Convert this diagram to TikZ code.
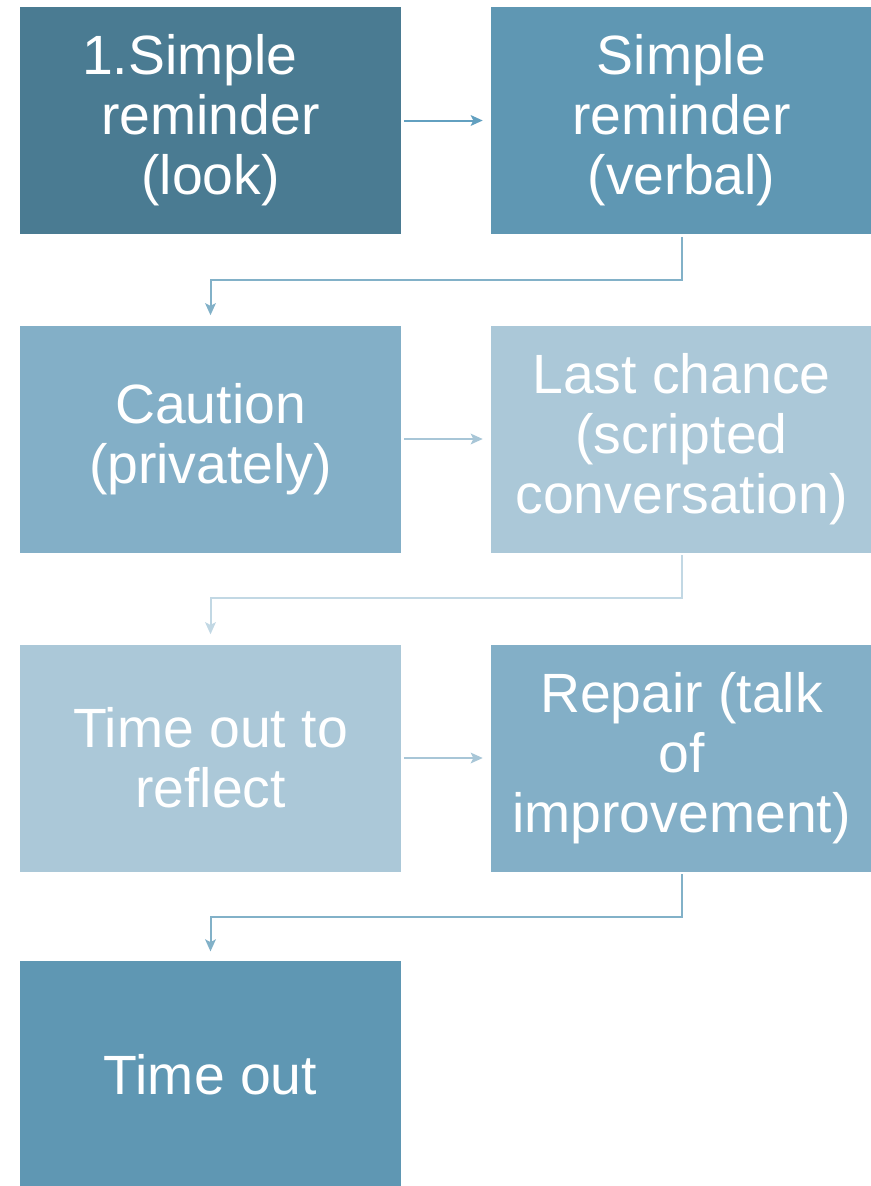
\documentclass[tikz,border=0pt]{standalone}
\usepackage{fontspec}
\setmainfont{Liberation Sans}
\usetikzlibrary{arrows.meta}

\definecolor{stepA}{HTML}{4A7B92}
\definecolor{stepB}{HTML}{5F97B3}
\definecolor{stepC}{HTML}{83AFC7}
\definecolor{stepD}{HTML}{ABC8D8}
\definecolor{linkA}{HTML}{62A0C0}
\definecolor{linkB}{HTML}{82B1C8}
\definecolor{linkC}{HTML}{A8C6D7}
\definecolor{linkD}{HTML}{C2D8E4}

\tikzset{
  stepbox/.style={fill=#1, draw=none, text=white, align=center,
    minimum width=285.75pt, minimum height=170.25pt, inner sep=0pt,
    font=\fontsize{41.5}{45}\selectfont},
  link/.style={draw=#1, line width=1.5pt, -{Stealth[length=9pt, width=8pt, inset=2pt]}}
}

\begin{document}
\begin{tikzpicture}[x=0.75pt, y=-0.75pt]
    \useasboundingbox (0,0) rectangle (871,1186);
    % Steps of the escalation
    \node[stepbox=stepA] (look)    at (210.5,120.5) {1.Simple\hspace*{31pt}\\reminder\\(look)};
    \node[stepbox=stepB] (verbal)  at (681.5,120.5) {Simple\\reminder\\(verbal)};
    \node[stepbox=stepC] (caution) at (210.5,439)   {Caution\\(privately)};
    \node[stepbox=stepD] (chance)  at (681.5,439)   {Last chance\\(scripted\\conversation)};
    \node[stepbox=stepD] (reflect) at (210.5,758)   {Time out to\\reflect};
    \node[stepbox=stepC] (repair)  at (681.5,758)   {Repair (talk\\of\\improvement)};
    \node[stepbox=stepB] (timeout) at (210.5,1074.5) {Time out};

    % Connectors
    \draw[link=linkA] ([xshift=2pt]look.east) -- ([xshift=-6pt]verbal.west);
    \draw[link=linkB] ([yshift=-2pt]verbal.south) |- (210.5,280) -- ([yshift=7.5pt]caution.north);
    \draw[link=linkC] ([xshift=2pt]caution.east) -- ([xshift=-6pt]chance.west);
    \draw[link=linkD] ([yshift=-2pt]chance.south) |- (210.5,598) -- ([yshift=7.5pt]reflect.north);
    \draw[link=linkC] ([xshift=2pt]reflect.east) -- ([xshift=-6pt]repair.west);
    \draw[link=linkB] ([yshift=-2pt]repair.south) |- (210.5,917) -- ([yshift=7pt]timeout.north);
\end{tikzpicture}
\end{document}
